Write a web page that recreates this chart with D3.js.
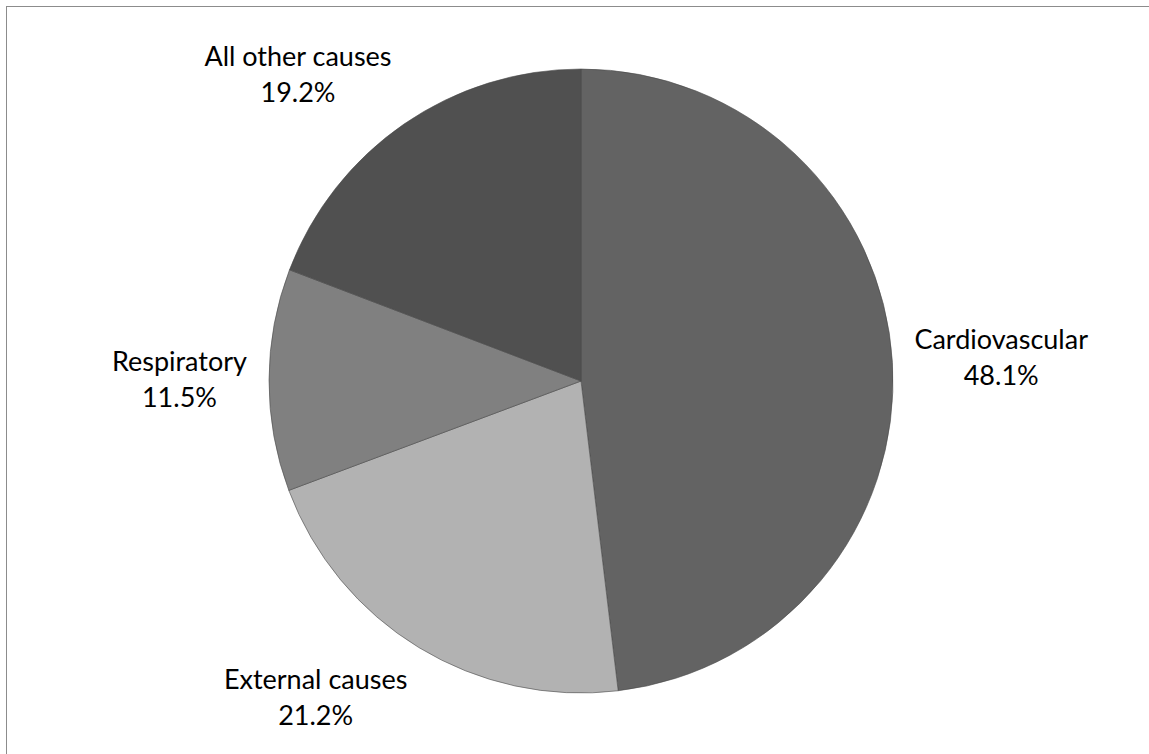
<!DOCTYPE html>
<html>
<head>
<meta charset="utf-8">
<script src="https://cdn.jsdelivr.net/npm/d3@7"></script>
<style>
  body { margin: 0; background: #fff; }
  svg { display: block; }
  text { font-family: Lato, "Open Sans", sans-serif; fill: #000; }
</style>
</head>
<body>
<svg width="1149" height="754"></svg>
<script>
const causes = ['Cardiovascular', 'External causes', 'Respiratory', 'All other causes']
const shares = [48.1, 21.2, 11.5, 19.2]
const fills = ['#636363', '#b2b2b2', '#808080', '#505050']

const svg = d3.select('svg')
const cx = 581
const cy = 381
const radius = 312

// chart area frame, runs off the right and bottom edges
svg.append('rect')
  .attr('x', 6.5).attr('y', 6.5)
  .attr('width', 1200).attr('height', 800)
  .attr('fill', 'none')
  .attr('stroke', '#8c8c8c')
  .attr('stroke-width', 1)

const data = causes.map((c, i) => ({ cause: c, value: shares[i], fill: fills[i] }))

const pie = d3.pie().sort(null).value(d => d.value)
const arc = d3.arc().innerRadius(0).outerRadius(radius)

const g = svg.append('g').attr('transform', 'translate(' + cx + ',' + cy + ')')

g.selectAll('path')
  .data(pie(data))
  .enter()
  .append('path')
  .attr('d', arc)
  .attr('fill', d => d.data.fill)
  .attr('stroke', '#4a4a4a')
  .attr('stroke-width', 0.6)

// outside-end labels: box pushed out from a point just past the rim
const fontSize = 27
const lineH = 36
const gap = 22
const label = g.selectAll('g.label')
  .data(pie(data))
  .enter()
  .append('g')
  .attr('class', 'label')

label.each(function (d) {
  const el = d3.select(this)
  const t1 = el.append('text').attr('font-size', fontSize).attr('text-anchor', 'middle').text(d.data.cause)
  const t2 = el.append('text').attr('font-size', fontSize).attr('text-anchor', 'middle').text(d.data.value.toFixed(1) + '%')
  const w = Math.max(t1.node().getComputedTextLength(), t2.node().getComputedTextLength())
  const h = lineH + fontSize
  const a = (d.startAngle + d.endAngle) / 2
  const dx = Math.sin(a)
  const dy = -Math.cos(a)
  const px = (radius + gap) * dx
  const py = (radius + gap) * dy
  const clamp = v => Math.max(-1, Math.min(1, v * 2))
  const lx = px + clamp(dx) * w / 2
  const ly = py + clamp(dy) * h / 2
  t1.attr('x', lx).attr('y', ly - lineH / 2 + fontSize * 0.35)
  t2.attr('x', lx).attr('y', ly + lineH / 2 + fontSize * 0.35)
})
</script>
</body>
</html>
